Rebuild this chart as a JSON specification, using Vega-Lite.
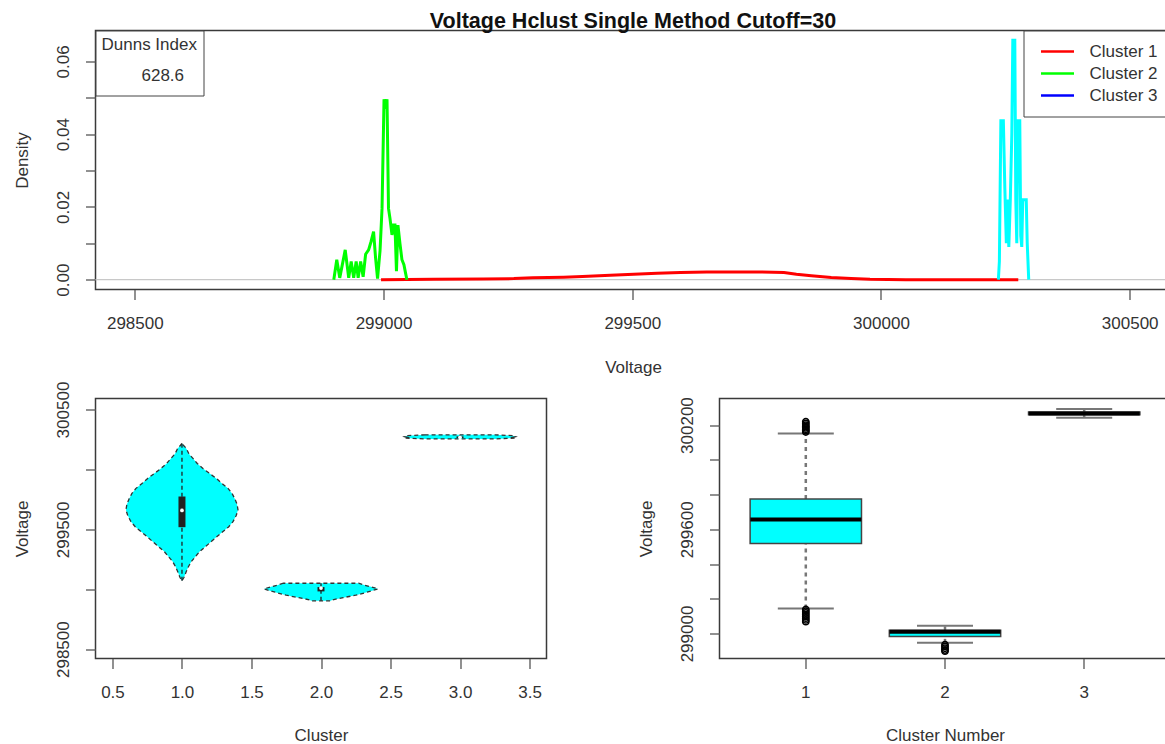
{
  "$schema": "https://vega.github.io/schema/vega-lite/v6.json",
  "autosize": {"type": "pad"},
  "padding": {"left": 12.5, "top": 10.5, "right": -6, "bottom": 0},
  "background": "white",
  "title": {
    "text": "Voltage Hclust Single Method Cutoff=30",
    "font": "Liberation Sans",
    "fontSize": 21.5,
    "fontWeight": "bold",
    "color": "#111",
    "anchor": "start",
    "align": "center",
    "frame": "group",
    "dx": 537.5,
    "offset": -2.5
  },
  "datasets": {
    "note": [{"dunn": "628.6"}],
    "density": [
      {"cluster": "Cluster 1", "voltage": 298995, "density": 0},
      {"cluster": "Cluster 1", "voltage": 299100, "density": 0.0001},
      {"cluster": "Cluster 1", "voltage": 299200, "density": 0.0002},
      {"cluster": "Cluster 1", "voltage": 299262, "density": 0.0003},
      {"cluster": "Cluster 1", "voltage": 299300, "density": 0.0005},
      {"cluster": "Cluster 1", "voltage": 299362, "density": 0.0007},
      {"cluster": "Cluster 1", "voltage": 299400, "density": 0.0009},
      {"cluster": "Cluster 1", "voltage": 299456, "density": 0.0012},
      {"cluster": "Cluster 1", "voltage": 299503, "density": 0.0015},
      {"cluster": "Cluster 1", "voltage": 299550, "density": 0.0018},
      {"cluster": "Cluster 1", "voltage": 299597, "density": 0.002},
      {"cluster": "Cluster 1", "voltage": 299650, "density": 0.0021},
      {"cluster": "Cluster 1", "voltage": 299700, "density": 0.0021},
      {"cluster": "Cluster 1", "voltage": 299760, "density": 0.0021},
      {"cluster": "Cluster 1", "voltage": 299805, "density": 0.002},
      {"cluster": "Cluster 1", "voltage": 299830, "density": 0.0015},
      {"cluster": "Cluster 1", "voltage": 299860, "density": 0.0011},
      {"cluster": "Cluster 1", "voltage": 299900, "density": 0.0006},
      {"cluster": "Cluster 1", "voltage": 299940, "density": 0.0003},
      {"cluster": "Cluster 1", "voltage": 299978, "density": 0.0001},
      {"cluster": "Cluster 1", "voltage": 300050, "density": 0},
      {"cluster": "Cluster 1", "voltage": 300276, "density": 0},
      {"cluster": "Cluster 2", "voltage": 298900, "density": 0},
      {"cluster": "Cluster 2", "voltage": 298906, "density": 0.0055},
      {"cluster": "Cluster 2", "voltage": 298912, "density": 0.0005},
      {"cluster": "Cluster 2", "voltage": 298917, "density": 0.004},
      {"cluster": "Cluster 2", "voltage": 298923, "density": 0.0082},
      {"cluster": "Cluster 2", "voltage": 298930, "density": 0.0005},
      {"cluster": "Cluster 2", "voltage": 298935, "density": 0.005},
      {"cluster": "Cluster 2", "voltage": 298940, "density": 0.0005},
      {"cluster": "Cluster 2", "voltage": 298945, "density": 0.005},
      {"cluster": "Cluster 2", "voltage": 298949, "density": 0.0005},
      {"cluster": "Cluster 2", "voltage": 298954, "density": 0.005},
      {"cluster": "Cluster 2", "voltage": 298959, "density": 0.0008},
      {"cluster": "Cluster 2", "voltage": 298964, "density": 0.007},
      {"cluster": "Cluster 2", "voltage": 298970, "density": 0.0082},
      {"cluster": "Cluster 2", "voltage": 298975, "density": 0.0105},
      {"cluster": "Cluster 2", "voltage": 298980, "density": 0.0132},
      {"cluster": "Cluster 2", "voltage": 298984, "density": 0.006},
      {"cluster": "Cluster 2", "voltage": 298988, "density": 0.0003},
      {"cluster": "Cluster 2", "voltage": 298993, "density": 0.008},
      {"cluster": "Cluster 2", "voltage": 298997, "density": 0.0196},
      {"cluster": "Cluster 2", "voltage": 299001, "density": 0.0496},
      {"cluster": "Cluster 2", "voltage": 299004, "density": 0.047},
      {"cluster": "Cluster 2", "voltage": 299007, "density": 0.0496},
      {"cluster": "Cluster 2", "voltage": 299010, "density": 0.0196},
      {"cluster": "Cluster 2", "voltage": 299013, "density": 0.0168},
      {"cluster": "Cluster 2", "voltage": 299017, "density": 0.0123},
      {"cluster": "Cluster 2", "voltage": 299020, "density": 0.015},
      {"cluster": "Cluster 2", "voltage": 299023, "density": 0.015},
      {"cluster": "Cluster 2", "voltage": 299026, "density": 0.0023},
      {"cluster": "Cluster 2", "voltage": 299029, "density": 0.015},
      {"cluster": "Cluster 2", "voltage": 299033, "density": 0.01},
      {"cluster": "Cluster 2", "voltage": 299037, "density": 0.0055},
      {"cluster": "Cluster 2", "voltage": 299041, "density": 0.0041},
      {"cluster": "Cluster 2", "voltage": 299044, "density": 0.002},
      {"cluster": "Cluster 2", "voltage": 299047, "density": 0},
      {"cluster": "Cluster 3", "voltage": 300236, "density": 0},
      {"cluster": "Cluster 3", "voltage": 300238, "density": 0.005},
      {"cluster": "Cluster 3", "voltage": 300241, "density": 0.0437},
      {"cluster": "Cluster 3", "voltage": 300246, "density": 0.0437},
      {"cluster": "Cluster 3", "voltage": 300249, "density": 0.025},
      {"cluster": "Cluster 3", "voltage": 300252, "density": 0.01},
      {"cluster": "Cluster 3", "voltage": 300254, "density": 0.022},
      {"cluster": "Cluster 3", "voltage": 300257, "density": 0.009},
      {"cluster": "Cluster 3", "voltage": 300260, "density": 0.022},
      {"cluster": "Cluster 3", "voltage": 300263, "density": 0.04},
      {"cluster": "Cluster 3", "voltage": 300265, "density": 0.0658},
      {"cluster": "Cluster 3", "voltage": 300269, "density": 0.0658},
      {"cluster": "Cluster 3", "voltage": 300271, "density": 0.022},
      {"cluster": "Cluster 3", "voltage": 300273, "density": 0.01},
      {"cluster": "Cluster 3", "voltage": 300275, "density": 0.0437},
      {"cluster": "Cluster 3", "voltage": 300279, "density": 0.0437},
      {"cluster": "Cluster 3", "voltage": 300281, "density": 0.012},
      {"cluster": "Cluster 3", "voltage": 300283, "density": 0.009},
      {"cluster": "Cluster 3", "voltage": 300285, "density": 0.022},
      {"cluster": "Cluster 3", "voltage": 300289, "density": 0.022},
      {"cluster": "Cluster 3", "voltage": 300292, "density": 0.022},
      {"cluster": "Cluster 3", "voltage": 300294, "density": 0.01},
      {"cluster": "Cluster 3", "voltage": 300297, "density": 0}
    ],
    "violin": [
      {"cluster": 1, "voltage": 299070, "left": 1, "right": 1},
      {"cluster": 1, "voltage": 299100, "left": 0.985, "right": 1.015},
      {"cluster": 1, "voltage": 299148, "left": 0.969, "right": 1.031},
      {"cluster": 1, "voltage": 299190, "left": 0.953, "right": 1.047},
      {"cluster": 1, "voltage": 299231, "left": 0.933, "right": 1.067},
      {"cluster": 1, "voltage": 299270, "left": 0.905, "right": 1.095},
      {"cluster": 1, "voltage": 299314, "left": 0.873, "right": 1.127},
      {"cluster": 1, "voltage": 299355, "left": 0.832, "right": 1.168},
      {"cluster": 1, "voltage": 299398, "left": 0.789, "right": 1.211},
      {"cluster": 1, "voltage": 299440, "left": 0.748, "right": 1.252},
      {"cluster": 1, "voltage": 299481, "left": 0.705, "right": 1.295},
      {"cluster": 1, "voltage": 299520, "left": 0.665, "right": 1.335},
      {"cluster": 1, "voltage": 299564, "left": 0.633, "right": 1.367},
      {"cluster": 1, "voltage": 299615, "left": 0.61, "right": 1.39},
      {"cluster": 1, "voltage": 299662, "left": 0.597, "right": 1.403},
      {"cluster": 1, "voltage": 299710, "left": 0.604, "right": 1.396},
      {"cluster": 1, "voltage": 299758, "left": 0.621, "right": 1.379},
      {"cluster": 1, "voltage": 299800, "left": 0.64, "right": 1.36},
      {"cluster": 1, "voltage": 299842, "left": 0.669, "right": 1.331},
      {"cluster": 1, "voltage": 299880, "left": 0.71, "right": 1.29},
      {"cluster": 1, "voltage": 299925, "left": 0.753, "right": 1.247},
      {"cluster": 1, "voltage": 299965, "left": 0.8, "right": 1.2},
      {"cluster": 1, "voltage": 300008, "left": 0.849, "right": 1.151},
      {"cluster": 1, "voltage": 300050, "left": 0.89, "right": 1.11},
      {"cluster": 1, "voltage": 300092, "left": 0.921, "right": 1.079},
      {"cluster": 1, "voltage": 300130, "left": 0.95, "right": 1.05},
      {"cluster": 1, "voltage": 300175, "left": 0.969, "right": 1.031},
      {"cluster": 1, "voltage": 300200, "left": 0.988, "right": 1.012},
      {"cluster": 1, "voltage": 300217, "left": 1, "right": 1},
      {"cluster": 2, "voltage": 298903, "left": 1.93, "right": 2.07},
      {"cluster": 2, "voltage": 298911, "left": 1.92, "right": 2.08},
      {"cluster": 2, "voltage": 298930, "left": 1.84, "right": 2.16},
      {"cluster": 2, "voltage": 298950, "left": 1.75, "right": 2.25},
      {"cluster": 2, "voltage": 298975, "left": 1.67, "right": 2.33},
      {"cluster": 2, "voltage": 299003, "left": 1.59, "right": 2.41},
      {"cluster": 2, "voltage": 299020, "left": 1.64, "right": 2.36},
      {"cluster": 2, "voltage": 299035, "left": 1.69, "right": 2.31},
      {"cluster": 2, "voltage": 299050, "left": 1.73, "right": 2.27},
      {"cluster": 3, "voltage": 300255, "left": 2.75, "right": 3.25},
      {"cluster": 3, "voltage": 300262, "left": 2.6, "right": 3.4},
      {"cluster": 3, "voltage": 300268, "left": 2.62, "right": 3.38},
      {"cluster": 3, "voltage": 300274, "left": 2.6, "right": 3.4},
      {"cluster": 3, "voltage": 300282, "left": 2.62, "right": 3.38},
      {"cluster": 3, "voltage": 300289, "left": 2.75, "right": 3.25}
    ],
    "vstats": [
      {"cluster": 1, "vmin": 299070, "vmax": 300217, "q1": 299518, "q3": 299774, "med": 299658},
      {"cluster": 2, "vmin": 298903, "vmax": 299050, "q1": 298982, "q3": 299018, "med": 299010},
      {"cluster": 3, "vmin": 300255, "vmax": 300289, "q1": 300262, "q3": 300276, "med": 300268}
    ],
    "boxstats": [
      {"cluster": 1, "wlo": 299144, "q1": 299518, "med": 299656, "q3": 299774, "whi": 300152},
      {"cluster": 2, "wlo": 298946, "q1": 298982, "med": 299010, "q3": 299018, "whi": 299044},
      {"cluster": 3, "wlo": 300242, "q1": 300260, "med": 300267, "q3": 300275, "whi": 300292}
    ],
    "outliers": [
      {"cluster": 1, "voltage": 300160}, {"cluster": 1, "voltage": 300168},
      {"cluster": 1, "voltage": 300176}, {"cluster": 1, "voltage": 300184},
      {"cluster": 1, "voltage": 300192}, {"cluster": 1, "voltage": 300200},
      {"cluster": 1, "voltage": 300210}, {"cluster": 1, "voltage": 300219},
      {"cluster": 1, "voltage": 299138}, {"cluster": 1, "voltage": 299128},
      {"cluster": 1, "voltage": 299118}, {"cluster": 1, "voltage": 299108},
      {"cluster": 1, "voltage": 299098}, {"cluster": 1, "voltage": 299088},
      {"cluster": 1, "voltage": 299078}, {"cluster": 1, "voltage": 299068},
      {"cluster": 2, "voltage": 298935}, {"cluster": 2, "voltage": 298925},
      {"cluster": 2, "voltage": 298915}, {"cluster": 2, "voltage": 298905},
      {"cluster": 2, "voltage": 298898}
    ]
  },
  "bounds": "flush",
  "spacing": 109,
  "vconcat": [
    {
      "width": 1075,
      "height": 259,
      "layer": [
        {
          "data": {"name": "note"},
          "mark": {"type": "rule", "color": "#c8c8c8", "strokeWidth": 1.2},
          "encoding": {
            "y": {
              "datum": 0,
              "type": "quantitative",
              "scale": {"domain": [-0.0027, 0.0685], "zero": false, "nice": false},
              "axis": {
                "title": "Density",
                "values": [0, 0.01, 0.02, 0.03, 0.04, 0.05, 0.06],
                "labelExpr": "round(datum.value * 100) % 2 == 0 ? format(datum.value, '.2f') : ''",
                "titleX": -73,
                "titleY": 129.5
              }
            },
            "strokeDash": {
              "field": "dunn",
              "type": "nominal",
              "scale": {"range": [[1, 0]]},
              "legend": {
                "orient": "none",
                "legendX": 0,
                "legendY": 0,
                "title": "Dunns Index",
                "titlePadding": 8,
                "padding": 6,
                "clipHeight": 28,
                "symbolSize": 784,
                "symbolOpacity": 0,
                "symbolStrokeColor": "transparent",
                "labelOffset": 10,
                "strokeColor": "#444",
                "fillColor": "white"
              }
            }
          }
        },
        {
          "data": {"name": "density"},
          "transform": [{"filter": "datum.cluster != 'Cluster 3'"}],
          "mark": {"type": "line", "strokeWidth": 3},
          "encoding": {
            "x": {
              "field": "voltage",
              "type": "quantitative",
              "scale": {"domain": [298421, 300582], "zero": false, "nice": false},
              "axis": {
                "title": "Voltage",
                "values": [298500, 299000, 299500, 300000, 300500],
                "format": "d",
                "titleX": 537.5,
                "titleY": 78
              }
            },
            "y": {"field": "density", "type": "quantitative", "title": "Density"},
            "color": {
              "field": "cluster",
              "type": "nominal",
              "scale": {"domain": ["Cluster 1", "Cluster 2", "Cluster 3"], "range": ["#ff0000", "#00ff00", "#0000ff"]},
              "legend": {
                "orient": "none",
                "legendX": 928,
                "legendY": 0,
                "title": null,
                "symbolType": "stroke",
                "symbolSize": 1089,
                "symbolStrokeWidth": 2.5,
                "clipHeight": 22,
                "rowPadding": 0,
                "symbolOffset": 6,
                "labelOffset": 14,
                "padding": 10,
                "strokeColor": "#444",
                "fillColor": "white"
              }
            }
          }
        },
        {
          "data": {"name": "density"},
          "transform": [{"filter": "datum.cluster == 'Cluster 3'"}],
          "mark": {"type": "line", "strokeWidth": 3, "color": "#00ffff"},
          "encoding": {
            "x": {"field": "voltage", "type": "quantitative", "title": "Voltage"},
            "y": {"field": "density", "type": "quantitative", "title": "Density"}
          }
        }
      ]
    },
    {
      "bounds": "flush",
      "spacing": 173,
      "hconcat": [
        {
          "width": 451,
          "height": 260,
          "layer": [
            {
              "data": {"name": "violin"},
              "mark": {"type": "area", "orient": "horizontal", "fill": "#00ffff", "fillOpacity": 1, "stroke": "#333", "strokeWidth": 1.3, "strokeDash": [4, 3]},
              "encoding": {
                "y": {
                  "field": "voltage",
                  "type": "quantitative",
                  "scale": {"domain": [298422, 300592], "zero": false, "nice": false},
                  "axis": {
                    "title": "Voltage",
                    "values": [298500, 299000, 299500, 300000, 300500],
                    "labelExpr": "datum.value % 1000 == 500 ? format(datum.value, 'd') : ''",
                    "titleX": -73,
                    "titleY": 130
                  }
                },
                "x": {
                  "field": "left",
                  "type": "quantitative",
                  "stack": null,
                  "scale": {"domain": [0.378, 3.622], "zero": false, "nice": false},
                  "axis": {
                    "title": "Cluster",
                    "values": [0.5, 1, 1.5, 2, 2.5, 3, 3.5],
                    "format": ".1f",
                    "titleX": 225.5,
                    "titleY": 77
                  }
                },
                "x2": {"field": "right"},
                "detail": {"field": "cluster", "type": "nominal"}
              }
            },
            {
              "data": {"name": "vstats"},
              "mark": {"type": "rule", "color": "#222", "strokeWidth": 1.3, "strokeDash": [4, 3]},
              "encoding": {
                "x": {"field": "cluster", "type": "quantitative", "title": "Cluster"},
                "y": {"field": "vmin", "type": "quantitative", "title": "Voltage"},
                "y2": {"field": "vmax"}
              }
            },
            {
              "data": {"name": "vstats"},
              "mark": {"type": "rule", "color": "#222", "strokeWidth": 7},
              "encoding": {
                "x": {"field": "cluster", "type": "quantitative", "title": "Cluster"},
                "y": {"field": "q1", "type": "quantitative", "title": "Voltage"},
                "y2": {"field": "q3"}
              }
            },
            {
              "data": {"name": "vstats"},
              "mark": {"type": "point", "filled": true, "color": "white", "size": 14, "opacity": 1},
              "encoding": {
                "x": {"field": "cluster", "type": "quantitative", "title": "Cluster"},
                "y": {"field": "med", "type": "quantitative", "title": "Voltage"}
              }
            }
          ]
        },
        {
          "width": 451,
          "height": 260,
          "layer": [
            {
              "data": {"name": "boxstats"},
              "mark": {"type": "rule", "color": "#777", "strokeWidth": 2.5, "strokeDash": [4, 4]},
              "encoding": {
                "x": {
                  "field": "cluster",
                  "type": "ordinal",
                  "scale": {"type": "band", "domain": [1, 2, 3], "paddingInner": 0.2, "paddingOuter": 0.22},
                  "axis": {"title": "Cluster Number", "labelAngle": 0, "titleX": 225.5, "titleY": 77}
                },
                "y": {
                  "field": "q3",
                  "type": "quantitative",
                  "scale": {"domain": [298856, 300353], "zero": false, "nice": false},
                  "axis": {
                    "title": "Voltage",
                    "values": [299000, 299200, 299400, 299600, 299800, 300000, 300200],
                    "labelExpr": "(datum.value - 299000) % 600 == 0 ? format(datum.value, 'd') : ''",
                    "titleX": -73,
                    "titleY": 130
                  }
                },
                "y2": {"field": "whi"}
              }
            },
            {
              "data": {"name": "boxstats"},
              "mark": {"type": "rule", "color": "#777", "strokeWidth": 2.5, "strokeDash": [4, 4]},
              "encoding": {
                "x": {"field": "cluster", "type": "ordinal", "title": "Cluster Number"},
                "y": {"field": "wlo", "type": "quantitative", "title": "Voltage"},
                "y2": {"field": "q1"}
              }
            },
            {
              "data": {"name": "boxstats"},
              "mark": {"type": "tick", "color": "#777", "size": 56, "thickness": 2, "opacity": 1},
              "encoding": {
                "x": {"field": "cluster", "type": "ordinal", "title": "Cluster Number"},
                "y": {"field": "whi", "type": "quantitative", "title": "Voltage"}
              }
            },
            {
              "data": {"name": "boxstats"},
              "mark": {"type": "tick", "color": "#777", "size": 56, "thickness": 2, "opacity": 1},
              "encoding": {
                "x": {"field": "cluster", "type": "ordinal", "title": "Cluster Number"},
                "y": {"field": "wlo", "type": "quantitative", "title": "Voltage"}
              }
            },
            {
              "data": {"name": "boxstats"},
              "mark": {"type": "bar", "fill": "#00ffff", "stroke": "#444", "strokeWidth": 1.5, "opacity": 1},
              "encoding": {
                "x": {"field": "cluster", "type": "ordinal", "title": "Cluster Number"},
                "y": {"field": "q1", "type": "quantitative", "title": "Voltage"},
                "y2": {"field": "q3"}
              }
            },
            {
              "data": {"name": "boxstats"},
              "mark": {"type": "tick", "color": "#000", "size": 111, "thickness": 4, "opacity": 1},
              "encoding": {
                "x": {"field": "cluster", "type": "ordinal", "title": "Cluster Number"},
                "y": {"field": "med", "type": "quantitative", "title": "Voltage"}
              }
            },
            {
              "data": {"name": "outliers"},
              "mark": {"type": "point", "shape": "circle", "filled": false, "color": "#000", "size": 40, "strokeWidth": 1.5, "opacity": 1},
              "encoding": {
                "x": {"field": "cluster", "type": "ordinal", "title": "Cluster Number"},
                "y": {"field": "voltage", "type": "quantitative", "title": "Voltage"}
              }
            }
          ]
        }
      ]
    }
  ],
  "config": {
    "font": "Liberation Sans",
    "view": {"stroke": "#3a3a3a", "strokeWidth": 1.5},
    "axis": {
      "domain": false,
      "grid": false,
      "ticks": true,
      "tickColor": "#555",
      "tickWidth": 1.3,
      "tickSize": 10,
      "labelFont": "Liberation Sans",
      "labelFontSize": 17,
      "labelColor": "#333",
      "labelOverlap": false,
      "labelFlush": false,
      "labelBound": false,
      "titleFont": "Liberation Sans",
      "titleFontSize": 17,
      "titleFontWeight": "normal",
      "titleColor": "#333"
    },
    "axisX": {"labelAngle": 0, "labelAlign": "center", "labelBaseline": "middle", "labelPadding": 24, "titleBaseline": "middle", "titleAngle": 0, "titleAlign": "center"},
    "axisY": {"labelAngle": -90, "labelAlign": "center", "labelBaseline": "middle", "labelPadding": 22, "titleBaseline": "middle", "titleAngle": -90, "titleAlign": "center"},
    "legend": {
      "labelFont": "Liberation Sans",
      "titleFont": "Liberation Sans",
      "labelFontSize": 17,
      "titleFontSize": 17,
      "labelColor": "#333",
      "titleColor": "#333",
      "titleFontWeight": "normal"
    }
  }
}
